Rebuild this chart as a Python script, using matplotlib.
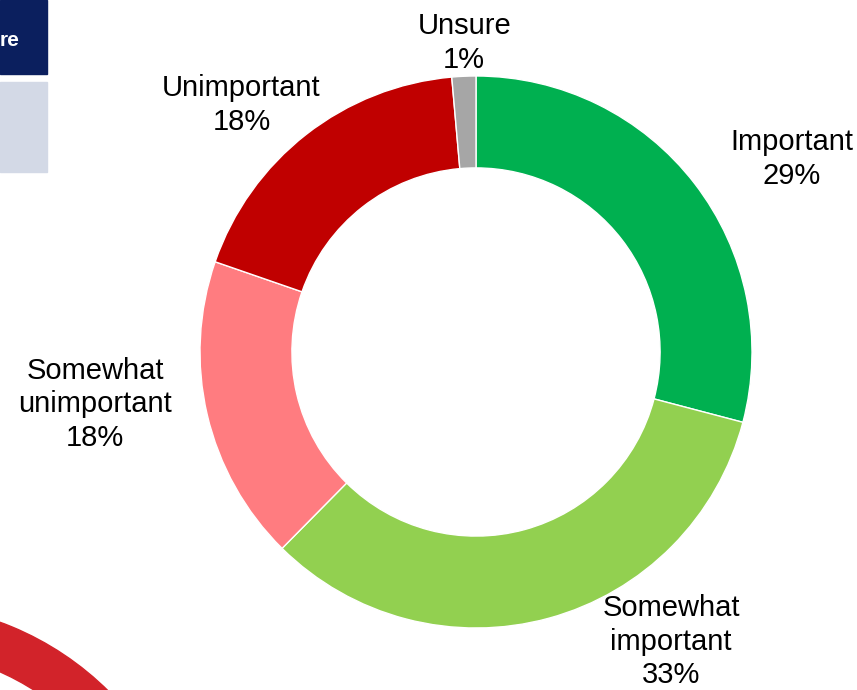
import matplotlib
matplotlib.use("Agg")
import matplotlib.pyplot as plt
from matplotlib.patches import Wedge, Rectangle

plt.rcParams['font.family'] = ['Liberation Sans', 'DejaVu Sans']

# survey answers, clockwise from the top
labels = ["Important", "Somewhat\nimportant", "Somewhat\nunimportant", "Unimportant", "Unsure"]
shown_pct = ["29%", "33%", "18%", "18%", "1%"]
values = [29.1, 33.3, 17.9, 18.3, 1.4]
colors = ["#00B050", "#92D050", "#FF7C80", "#C00000", "#A6A6A6"]

# where each label sits (data coords, ring radius = 1)
label_pos = [(1.145, 0.70), (0.707, -1.05), (-1.38, -0.19), (-0.85, 0.895), (-0.043, 1.12)]

W, H = 857, 690
fig = plt.figure(figsize=(W / 100, H / 100), dpi=100)

# bits of the slide cut off at the left edge
bg = fig.add_axes([0, 0, 1, 1])
bg.set_xlim(0, W)
bg.set_ylim(H, 0)
bg.axis("off")
bg.add_patch(Rectangle((0, 0), 47, 74, color="#0B1F5E"))
bg.text(20, 40, "re", color="white", fontsize=15, fontweight="bold",
        ha="right", va="center")
bg.add_patch(Rectangle((0, 82), 47, 90, color="#D3D9E6"))
bg.add_patch(Wedge((-103, 904), 300, 0, 360, width=46, color="#D2232A"))

ax = fig.add_axes([200 / W, 62 / H, 552 / W, 552 / H])
wedges, _ = ax.pie(values, colors=colors, startangle=90, counterclock=False,
                   radius=1, wedgeprops=dict(width=0.333, edgecolor="white", linewidth=1))
ax.set_xlim(-1, 1)
ax.set_ylim(-1, 1)
ax.set_aspect("equal")

for lab, pct, (x, y) in zip(labels, shown_pct, label_pos):
    ax.text(x, y, lab + "\n" + pct, ha="center", va="center", fontsize=21,
            linespacing=1.25, clip_on=False)

fig.savefig("out.png", dpi=100)
